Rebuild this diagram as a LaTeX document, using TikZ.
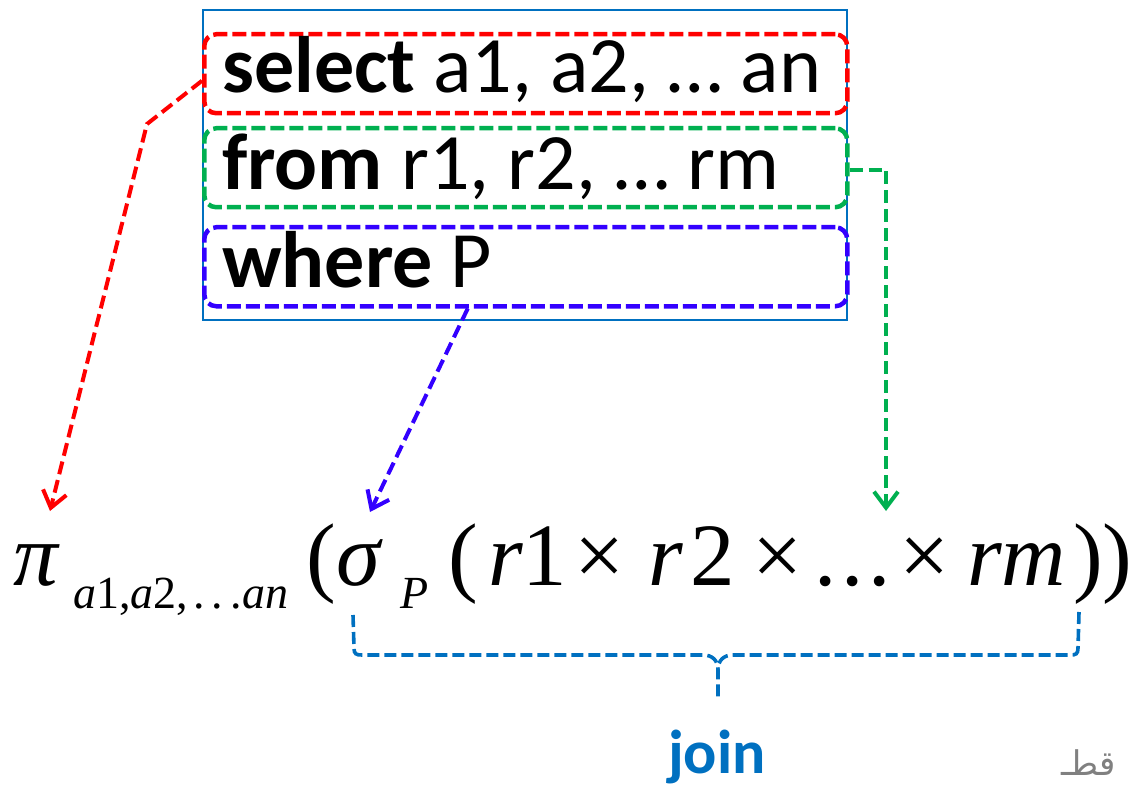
\documentclass[tikz,border=0pt]{standalone}
\usepackage{fontspec}
\setmainfont{Carlito}
\newfontfamily\tms{Liberation Serif}
\newfontfamily\arabicfont[Script=Arabic]{DejaVu Sans}
\TeXXeTstate=1
\usetikzlibrary{arrows.meta}
\definecolor{cred}{RGB}{255,0,0}
\definecolor{cgreen}{RGB}{0,176,80}
\definecolor{cviolet}{RGB}{51,0,255}
\definecolor{cblue}{RGB}{0,112,192}
\begin{document}
\begin{tikzpicture}[x=1pt,y=-1pt,
  qbox/.style={draw, line width=4.5pt, dash pattern=on 14pt off 5pt, rounded corners=12pt,
    minimum width=643pt, minimum height=79pt, anchor=north west, inner sep=0pt},
  qarrow/.style={line width=4pt, dash pattern=on 13pt off 6pt,
    -{Straight Barb[length=16pt,width=24pt]}},
  qtext/.style={anchor=base west, inner sep=0pt, font=\fontsize{80}{96}\selectfont},
  ftext/.style={anchor=base west, inner sep=0pt, font=\tms\fontsize{89}{100}\selectfont},
  fsub/.style={anchor=base west, inner sep=0pt, font=\tms\fontsize{46}{50}\selectfont},
  bracel/.style={cblue, line width=3.6pt, dash pattern=on 12pt off 5pt},
]
\useasboundingbox (0,0) rectangle (1142,786);
% outer frame
\node[draw=cblue, line width=1.6pt, minimum width=644pt, minimum height=310pt,
  anchor=north west, inner sep=0pt] (frame) at (202,9) {};
% clause boxes
\node[qbox, draw=cred] (sel) at (202,32) {};
\node[qbox, draw=cgreen] (fr) at (202,126) {};
\node[qbox, draw=cviolet] (wh) at (202,225) {};
\node[qtext] (selt) at (222,93) {\textbf{select} a1, a2, … an};
\node[qtext] (frt) at (222,190) {\textbf{from} r1, r2, … rm};
\node[qtext] (wht) at (222,287) {\textbf{where} P};
% formula
\node[ftext] (pi) at (13,585) {\itshape π};
\node[fsub] (pisub) at (73,608) {\textit{a}1,\textit{a}2,\kern5pt.\kern7pt.\kern7pt.\kern1pt\textit{an}};
\node[ftext] (lp1) at (306,585) {(};
\node[ftext] (sigma) at (336,585) {\itshape σ};
\node[fsub] (psub) at (400,608) {\itshape P};
\node[ftext] (lp2) at (448,585) {(};
\node[ftext] (r1) at (488,585) {\textit{r}};
\node[ftext] (one) at (522,585) {1};
\node[ftext] (x1) at (574,585) {×};
\node[ftext] (r2) at (648,585) {\textit{r}};
\node[ftext] (two) at (690,585) {2};
\node[ftext] (x2) at (752,585) {×};
\node[ftext] (dots) at (814,585) {.\kern5pt.\kern5pt.};
\node[ftext] (x3) at (899,585) {×};
\node[ftext] (rm) at (967,585) {\itshape rm};
\node[ftext] (rp) at (1073,585) {))};
% arrow tips
\coordinate (redtip) at (50,511);
\coordinate (bluetip) at (370,512);
\coordinate (greentip) at (886,511);
\coordinate (redbend) at (147,124);
% arrows
\draw[qarrow, cred] ([yshift=-7pt]sel.west) -- (redbend) -- (redtip);
\draw[qarrow, cviolet] ([xshift=-58pt]wh.south) -- (bluetip);
\draw[qarrow, cgreen] ([yshift=-2pt]fr.east) -| (greentip);
% brace
\coordinate (bl) at (353,615);
\coordinate (br) at (1079,612);
\coordinate (bt) at (718,697);
\draw[bracel] (bl) -- (354,648) .. controls (354,654) and (356,655) .. (362,655)
  -- (703,655) .. controls (712,655) and (718,660) .. (718,670) -- (bt);
\draw[bracel] (br) -- (1078,648) .. controls (1078,654) and (1076,655) .. (1070,655)
  -- (733,655) .. controls (724,655) and (718,660) .. (718,670);
\node[anchor=base, inner sep=0pt, text=cblue, font=\bfseries\fontsize{62}{70}\selectfont] (join) at (717,773) {join};
% watermark
\node[anchor=base east, inner sep=0pt, text=gray, font=\arabicfont\fontsize{34}{40}\selectfont] (wm) at (1116,775) {\beginR قطـ\endR};
\end{tikzpicture}
\end{document}
